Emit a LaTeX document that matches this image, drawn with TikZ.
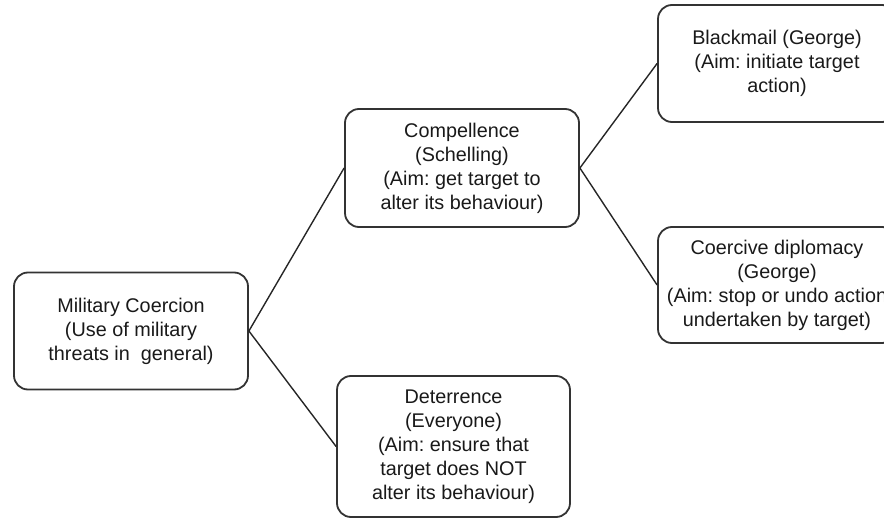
\documentclass[tikz,border=0pt]{standalone}
\usepackage{fontspec}
\setmainfont{Liberation Sans}
\frenchspacing
\begin{document}
\begin{tikzpicture}[x=0.5pt,y=-0.5pt,
        box/.style={draw=black!80, line width=0.9pt, rounded corners=7pt, align=center,
            inner sep=0pt, text=black!90, font=\fontsize{9.9}{12}\selectfont},
        link/.style={black!85, line width=0.7pt}]
                \useasboundingbox (0,0) rectangle (884,519);
                % first level
                \node[box, minimum width=117pt, minimum height=58.5pt] (coercion) at (131,331)
                    {Military Coercion\\(Use of military\\threats in\ \ general)};
                % second level
                \node[box, minimum width=117pt, minimum height=59pt] (compellence) at (462,168)
                    {Compellence\\(Schelling)\\(Aim: get target to\\alter its behaviour)};
                \node[box, minimum width=116.5pt, minimum height=70.5pt] (deterrence) at (453.5,446.5)
                    {Deterrence\\(Everyone)\\(Aim: ensure that\\target does NOT\\alter its behaviour)};
                % third level
                \node[box, minimum width=119pt, minimum height=58.5pt] (blackmail) at (777,63.5)
                    {Blackmail (George)\\(Aim: initiate target\\action)};
                \node[box, minimum width=119pt, minimum height=58pt] (diplomacy) at (777,285)
                    {Coercive diplomacy\\(George)\\(Aim: stop or undo action\\undertaken by target)};
                % connectors
                \draw[link] (coercion.east) -- (compellence.west);
                \draw[link] (coercion.east) -- (deterrence.west);
                \draw[link] (compellence.east) -- (blackmail.west);
                \draw[link] (compellence.east) -- (diplomacy.west);
            \end{tikzpicture}
\end{document}
